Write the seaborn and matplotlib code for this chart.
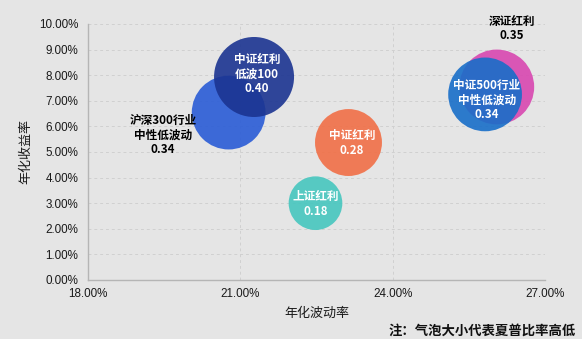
import matplotlib
matplotlib.use("Agg")
import matplotlib.pyplot as plt
from matplotlib.ticker import PercentFormatter, MultipleLocator
import seaborn as sns
import pandas as pd

# ---- data ----
names = ["上证红利", "中证红利", "沪深300行业\n中性低波动", "中证红利\n低波100", "深证红利", "中证500行业\n中性低波动"]
volatility = [22.48, 23.13, 20.77, 21.27, 26.05, 25.82]      # 年化波动率 (%)
ret = [3.00, 5.37, 6.54, 7.93, 7.54, 7.25]                   # 年化收益率 (%)
sharpe = [0.18, 0.28, 0.34, 0.40, 0.35, 0.34]                # 夏普比率
x_ticks = [18, 21, 24, 27]
y_ticks = [0, 1, 2, 3, 4, 5, 6, 7, 8, 9, 10]

# ---- style ----
colors = ["#46c6bf", "#f16f46", "#2a5cd6", "#1b3491", "#d847b0", "#186ec9"]
label_color = ["white", "white", "black", "white", "black", "white"]
# label offsets from bubble centre, in pixels (dx right, dy up)
label_off_px = [(0, -1), (3.5, -0.5), (-65.5, -22.5), (3, 3), (15, 58.5), (1.5, -5.5)]

sns.set_theme(style="white")
plt.rcParams["font.family"] = ["Liberation Sans", "Noto Sans CJK SC", "DejaVu Sans"]

bg = "#e5e5e5"
df = pd.DataFrame({"name": names, "vol": volatility, "ret": ret, "sharpe": sharpe})

fig = plt.figure(figsize=(5.82, 3.39), dpi=100, facecolor=bg)
ax = fig.add_axes([88 / 582, 59 / 339, 457 / 582, 256 / 339])
ax.set_facecolor(bg)

sns.scatterplot(data=df, x="vol", y="ret", hue="name", palette=dict(zip(names, colors)),
                size="sharpe", sizes=(0, 3318), size_norm=(0, 0.40),
                alpha=0.9, linewidth=0, edgecolor="none", legend=False, ax=ax, zorder=3)

for n, xv, yv, s, c, (dx, dy) in zip(names, volatility, ret, sharpe, label_color, label_off_px):
    ax.annotate(f"{n}\n{s:.2f}", (xv, yv), xytext=(dx * 0.72, dy * 0.72),
                textcoords="offset points", ha="center", va="center",
                color=c, fontsize=8.4, fontweight="bold", linespacing=1.15,
                family=["Noto Sans CJK SC", "DejaVu Sans"], zorder=5)

ax.set_xlim(18, 27)
ax.set_ylim(0, 10)
ax.set_xticks(x_ticks)
ax.set_yticks(y_ticks)
ax.xaxis.set_major_formatter(PercentFormatter(100, decimals=2))
ax.yaxis.set_major_formatter(PercentFormatter(100, decimals=2))
ax.tick_params(axis="both", length=0, labelsize=8.4, colors="#1a1a1a")
ax.tick_params(axis="x", pad=6)
ax.tick_params(axis="y", pad=7)

ax.grid(True, color="#d0d0d0", linestyle=(0, (3, 3)), linewidth=0.7, zorder=0)
ax.set_axisbelow(True)
for side in ["top", "right"]:
    ax.spines[side].set_visible(False)
for side in ["left", "bottom"]:
    ax.spines[side].set_color("#b5b5b5")
    ax.spines[side].set_linewidth(1.0)

ax.set_xlabel("年化波动率", fontsize=9.4, color="#1a1a1a")
ax.set_ylabel("年化收益率", fontsize=9.4, color="#1a1a1a")
ax.xaxis.set_label_coords(0.5, -0.107)
ax.yaxis.set_label_coords(-0.1225, 0.5)

fig.text(576 / 582, 8 / 339, "注：气泡大小代表夏普比率高低", ha="right", va="center",
         fontsize=9.6, fontweight="bold", color="#111111",
         family=["Noto Sans CJK SC", "DejaVu Sans"])

fig.savefig("out.png", dpi=100, facecolor=bg)
